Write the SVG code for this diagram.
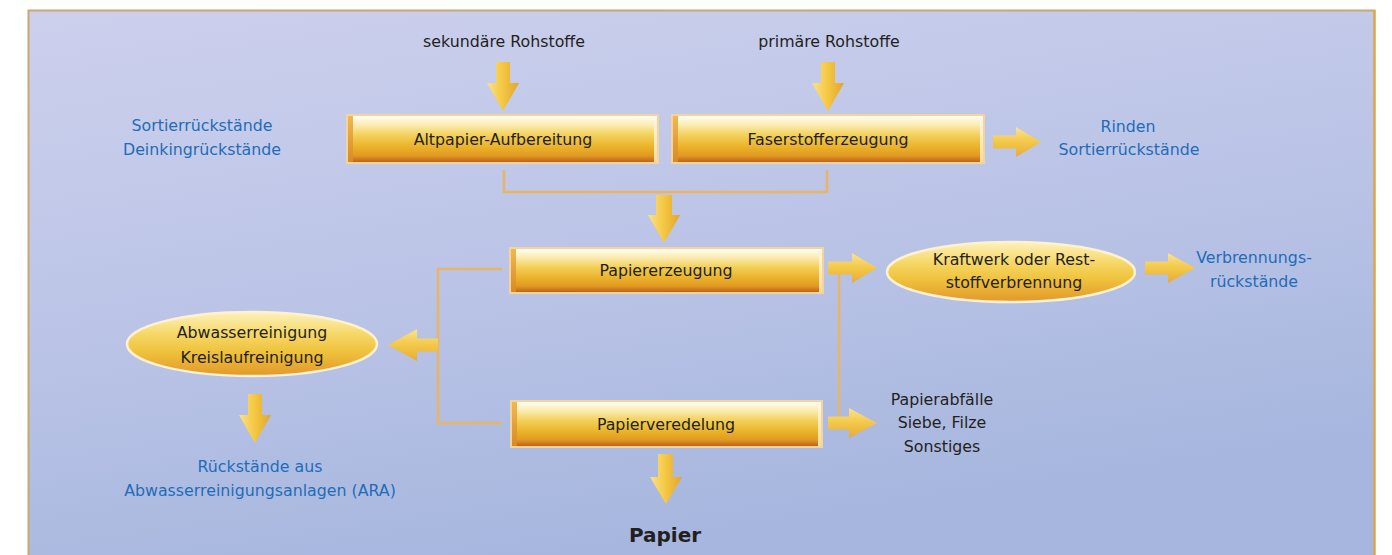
<svg xmlns="http://www.w3.org/2000/svg" width="1392" height="555" viewBox="0 0 1392 555">
<defs>
<linearGradient id="bg" x1="0" y1="0" x2="0.35" y2="1">
<stop offset="0" stop-color="#cdd0ed"/>
<stop offset="0.5" stop-color="#bcc5e7"/>
<stop offset="1" stop-color="#a6b6de"/>
</linearGradient>
<linearGradient id="boxg" x1="0" y1="0" x2="0" y2="1">
<stop offset="0" stop-color="#fffdf2"/>
<stop offset="0.18" stop-color="#fbedb6"/>
<stop offset="0.42" stop-color="#f3d05a"/>
<stop offset="0.66" stop-color="#ebb42a"/>
<stop offset="0.86" stop-color="#e19a22"/>
<stop offset="1" stop-color="#c2621a"/>
</linearGradient>
<linearGradient id="lstripg" x1="0" y1="0" x2="0" y2="1">
<stop offset="0" stop-color="#f0b850"/>
<stop offset="1" stop-color="#d88a22"/>
</linearGradient>
<linearGradient id="rstripg" x1="0" y1="0" x2="0" y2="1">
<stop offset="0" stop-color="#fff8e4"/>
<stop offset="1" stop-color="#f6dca0"/>
</linearGradient>
<linearGradient id="ellg" x1="0" y1="0" x2="0" y2="1">
<stop offset="0" stop-color="#fdf1bc"/>
<stop offset="0.35" stop-color="#f6d766"/>
<stop offset="0.62" stop-color="#efc23c"/>
<stop offset="1" stop-color="#e2982a"/>
</linearGradient>
<linearGradient id="adown" x1="0" y1="0" x2="1" y2="0">
<stop offset="0" stop-color="#fbe08a"/>
<stop offset="0.45" stop-color="#f5ca46"/>
<stop offset="1" stop-color="#e3a52a"/>
</linearGradient>
<linearGradient id="aside" x1="0" y1="0" x2="0" y2="1">
<stop offset="0" stop-color="#fbe28e"/>
<stop offset="0.5" stop-color="#f3c848"/>
<stop offset="1" stop-color="#e7ab34"/>
</linearGradient>
</defs>
<style>
.t{font-family:"DejaVu Sans","Liberation Sans",sans-serif;font-size:15.8px;fill:#231f20;text-anchor:middle}
.b{fill:#1f6cb8}
.glow{fill:#f4d39c}
.box{fill:url(#boxg)}
.ls{fill:url(#lstripg)}
.rs{fill:url(#rstripg)}
.ell{fill:url(#ellg);stroke:#fdf1d2;stroke-width:2.5}
.line{fill:none;stroke:#e8b566;stroke-width:2.5}
.ad{fill:url(#adown)}
.as{fill:url(#aside)}
</style>
<rect x="0" y="0" width="1392" height="555" fill="#ffffff"/>
<rect x="28.5" y="10.5" width="1346" height="560" fill="url(#bg)" stroke="#c9a870" stroke-width="2"/>
<line x1="1374.5" y1="10" x2="1374.5" y2="555" stroke="#e2a53c" stroke-width="2"/>

<g id="connectors">
<path class="line" d="M504 170 V192 H827 V170"/>
<path class="line" d="M502 269 H438 V423 H502"/>
<path class="line" d="M839 272 V420"/>
<path class="ad" d="M496 62 H510 V83 H519 L503 111 L487 83 H496 Z"/>
<path class="ad" d="M821 62 H835 V83 H844 L828 111 L812 83 H821 Z"/>
<path class="ad" d="M656 195 H672 V215 H680 L664 243 L648 215 H656 Z"/>
<path class="ad" d="M658 454 H673 V477 H682 L666 504 L650 477 H658 Z"/>
<path class="ad" d="M248 394 H262 V415 H271 L255 443 L239 415 H248 Z"/>
<path class="as" d="M993 135.5 H1016 V127 L1041 142 L1016 157 V148.5 H993 Z"/>
<path class="as" d="M828 261.5 H852 V253 L877 268 L852 283 V274.5 H828 Z"/>
<path class="as" d="M828 416.5 H849 V408 L877 423 L849 438 V429.5 H828 Z"/>
<path class="as" d="M1145 261.5 H1168 V253 L1195 268 L1168 283 V274.5 H1145 Z"/>
<path class="as" d="M438 338.5 H417 V329 L388 345 L417 361 V351.5 H438 Z"/>
</g>

<g id="n-sekundaer"><text class="t" x="504" y="47">sekundäre Rohstoffe</text></g>
<g id="n-primaer"><text class="t" x="829" y="47">primäre Rohstoffe</text></g>

<g id="n-altpapier">
<rect class="glow" x="346" y="114" width="313" height="50"/>
<rect class="box" x="348" y="116" width="309" height="46"/>
<rect class="ls" x="348" y="116" width="5" height="46"/>
<rect class="rs" x="654" y="116" width="3" height="46"/>
<text class="t" x="503" y="145">Altpapier-Aufbereitung</text>
</g>

<g id="n-faserstoff">
<rect class="glow" x="671" y="114" width="314" height="50"/>
<rect class="box" x="673" y="116" width="310" height="46"/>
<rect class="ls" x="673" y="116" width="5" height="46"/>
<rect class="rs" x="980" y="116" width="3" height="46"/>
<text class="t" x="828" y="145">Faserstofferzeugung</text>
</g>

<g id="n-papiererzeugung">
<rect class="glow" x="509" y="247" width="315" height="47"/>
<rect class="box" x="511" y="249" width="311" height="43"/>
<rect class="ls" x="511" y="249" width="5" height="43"/>
<rect class="rs" x="819" y="249" width="3" height="43"/>
<text class="t" x="666" y="276">Papiererzeugung</text>
</g>

<g id="n-papierveredelung">
<rect class="glow" x="510" y="400" width="313" height="48"/>
<rect class="box" x="512" y="402" width="309" height="44"/>
<rect class="ls" x="512" y="402" width="5" height="44"/>
<rect class="rs" x="818" y="402" width="3" height="44"/>
<text class="t" x="666" y="430">Papierveredelung</text>
</g>

<g id="n-kraftwerk">
<ellipse class="ell" cx="1011" cy="272" rx="124" ry="30"/>
<text class="t" x="1014" y="265">Kraftwerk oder Rest-</text>
<text class="t" x="1014" y="288">stoffverbrennung</text>
</g>

<g id="n-abwasser">
<ellipse class="ell" cx="252" cy="344" rx="125" ry="32"/>
<text class="t" x="252" y="338">Abwasserreinigung</text>
<text class="t" x="252" y="363">Kreislaufreinigung</text>
</g>

<g id="n-sortier-links">
<text class="t b" x="202" y="131">Sortierrückstände</text>
<text class="t b" x="202" y="155">Deinkingrückstände</text>
</g>

<g id="n-rinden">
<text class="t b" x="1128" y="132">Rinden</text>
<text class="t b" x="1129" y="155">Sortierrückstände</text>
</g>

<g id="n-verbrennung">
<text class="t b" x="1254" y="263">Verbrennungs-</text>
<text class="t b" x="1254" y="287">rückstände</text>
</g>

<g id="n-papierabfaelle">
<text class="t" x="942" y="405">Papierabfälle</text>
<text class="t" x="942" y="428">Siebe, Filze</text>
<text class="t" x="942" y="452">Sonstiges</text>
</g>

<g id="n-ara">
<text class="t b" x="260" y="472">Rückstände aus</text>
<text class="t b" x="260" y="496">Abwasserreinigungsanlagen (ARA)</text>
</g>

<g id="n-papier">
<text class="t" x="665" y="542" style="font-weight:bold;font-size:20px">Papier</text>
</g>
</svg>
